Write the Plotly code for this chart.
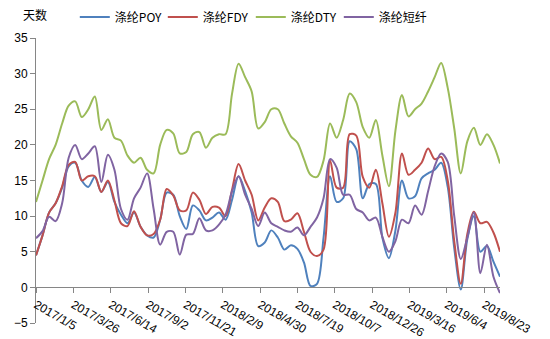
import pandas as pd
import plotly.graph_objects as go

# Fortnightly observation dates
dates = pd.date_range("2017-01-05", periods=72, freq="14D")

# Inventory days by product
poy = [4.5, 7.3, 10.5, 11.8, 14.0, 17.0, 17.5, 15.0, 14.1, 15.5,
       13.4, 14.8, 12.0, 10.2, 9.0, 10.5, 8.5, 7.3, 7.0, 9.5,
       13.3, 13.0, 10.0, 8.2, 11.5, 10.8, 9.4, 9.8, 10.5, 9.5,
       12.3, 15.6, 13.5, 10.5, 5.8, 6.3, 8.0, 7.0, 5.3, 5.9,
       5.4, 3.5, 0.2, 0.5, 7.0, 15.6, 12.0, 12.5, 20.5, 19.4,
       12.5, 14.5, 14.5, 7.0, 4.1, 8.0, 15.0, 12.5, 12.8, 15.3,
       16.0, 16.5, 17.5, 14.1, 5.5, -0.3, 6.8, 10.0, 5.0, 5.8,
       3.6, 1.5]
fdy = [4.5, 7.3, 10.5, 11.8, 14.2, 17.2, 17.6, 15.0, 15.6, 15.6,
       13.4, 15.0, 12.2, 9.0, 8.6, 10.7, 8.5, 7.3, 7.5, 9.5,
       13.8, 12.9, 10.8, 10.8, 13.3, 12.3, 10.3, 11.3, 11.2, 10.0,
       13.7, 17.3, 15.0, 13.0, 9.4, 11.2, 12.5, 12.0, 9.3, 9.5,
       10.4, 7.8, 5.0, 4.4, 5.3, 17.8, 14.0, 14.0, 21.5, 21.3,
       15.5, 14.0, 16.5, 11.8, 7.1, 10.5, 18.8, 15.8, 16.5, 17.5,
       19.5, 18.0, 18.3, 15.0, 6.5, 0.5, 7.5, 10.6, 9.0, 9.2,
       7.7, 5.0]
dty = [12.0, 15.0, 18.0, 20.0, 23.0, 25.5, 26.1, 23.9, 25.0, 26.8,
       22.1, 23.6, 21.0, 20.6, 18.5, 17.5, 18.2, 16.5, 16.0, 20.0,
       22.1, 21.6, 18.8, 19.0, 21.5, 21.8, 19.6, 21.0, 21.5, 21.5,
       27.2, 31.4, 29.5, 27.5, 22.3, 23.2, 25.0, 25.0, 23.0, 21.2,
       20.3, 18.0, 15.8, 15.5, 17.8, 23.0, 21.0, 23.5, 27.2, 26.0,
       22.5, 21.0, 23.5, 18.5, 14.2, 22.0, 27.0, 24.0, 25.0, 25.8,
       27.5, 29.5, 31.5, 28.0, 22.3, 16.0, 20.5, 22.4, 20.0, 21.5,
       20.0, 17.4]
staple = [6.9, 7.9, 9.9, 9.3, 11.8, 18.2, 20.0, 18.0, 18.8, 19.8,
          14.8, 18.6, 16.5, 11.0, 9.5, 12.5, 14.0, 16.0, 11.0, 6.0,
          7.8, 7.8, 4.6, 7.4, 7.5, 9.7, 8.0, 8.0, 8.8, 10.2,
          13.5, 15.6, 13.0, 11.0, 8.6, 10.5, 9.0, 8.5, 8.0, 7.8,
          8.4, 7.3, 8.5, 9.8, 12.5, 18.0, 16.8, 13.0, 13.0, 11.0,
          10.5, 9.4, 9.8, 7.1, 5.0, 6.5, 9.5, 9.0, 11.5, 10.2,
          13.5, 17.0, 18.8, 17.6, 10.0, 4.0, 7.0, 10.5, 2.0, 6.0,
          1.5, -0.8]

series_names = ["涤纶POY", "涤纶FDY", "涤纶DTY", "涤纶短纤"]
series_colors = ["#4F81BD", "#C0504D", "#9BBB59", "#8064A2"]

tick_labels = ["2017/1/5", "2017/3/26", "2017/6/14", "2017/9/2", "2017/11/21",
               "2018/2/9", "2018/4/30", "2018/7/19", "2018/10/7", "2018/12/26",
               "2019/3/16", "2019/6/4", "2019/8/23"]
tick_dates = pd.to_datetime(tick_labels, format="%Y/%m/%d")

fig = go.Figure()
for name, vals, col in zip(series_names, [poy, fdy, dty, staple], series_colors):
    fig.add_trace(go.Scatter(
        x=dates, y=vals, name=name, mode="lines",
        line=dict(color=col, width=2, shape="spline", smoothing=0.9),
    ))

axis_col = "#868686"
label_font = dict(family="Liberation Sans, Arial, sans-serif", size=12, color="#000000")

fig.update_layout(
    width=550, height=339,
    margin=dict(l=36, r=50, t=38, b=16, autoexpand=False),
    paper_bgcolor="white", plot_bgcolor="white",
    showlegend=True,
    legend=dict(
        orientation="h", xref="container", yref="container",
        x=0.136, y=0.95, xanchor="left", yanchor="middle",
        entrywidth=43, font=dict(family="Noto Sans CJK SC", size=12, color="#000000"),
        bgcolor="rgba(0,0,0,0)", borderwidth=0,
    ),
    xaxis=dict(
        type="date", range=[dates[0], dates[-1]],
        anchor="free", position=0.125, automargin=False,
        showline=True, linecolor=axis_col, linewidth=1,
        ticks="outside", ticklen=5, tickcolor=axis_col,
        tickvals=tick_dates, ticktext=tick_labels, tickangle=30,
        tickfont=label_font, showgrid=False, zeroline=False,
    ),
    yaxis=dict(
        range=[-5, 35], dtick=5, tick0=0, automargin=False,
        showline=True, linecolor=axis_col, linewidth=1,
        ticks="outside", ticklen=5, tickcolor=axis_col,
        tickfont=label_font, showgrid=False, zeroline=False,
    ),
    annotations=[dict(
        text="天数", xref="paper", yref="paper", x=-0.033, y=1.082,
        xanchor="left", yanchor="middle", showarrow=False,
        font=dict(family="Noto Sans CJK SC", size=12, color="#000000"),
    )],
)

fig.write_html("out.html")
